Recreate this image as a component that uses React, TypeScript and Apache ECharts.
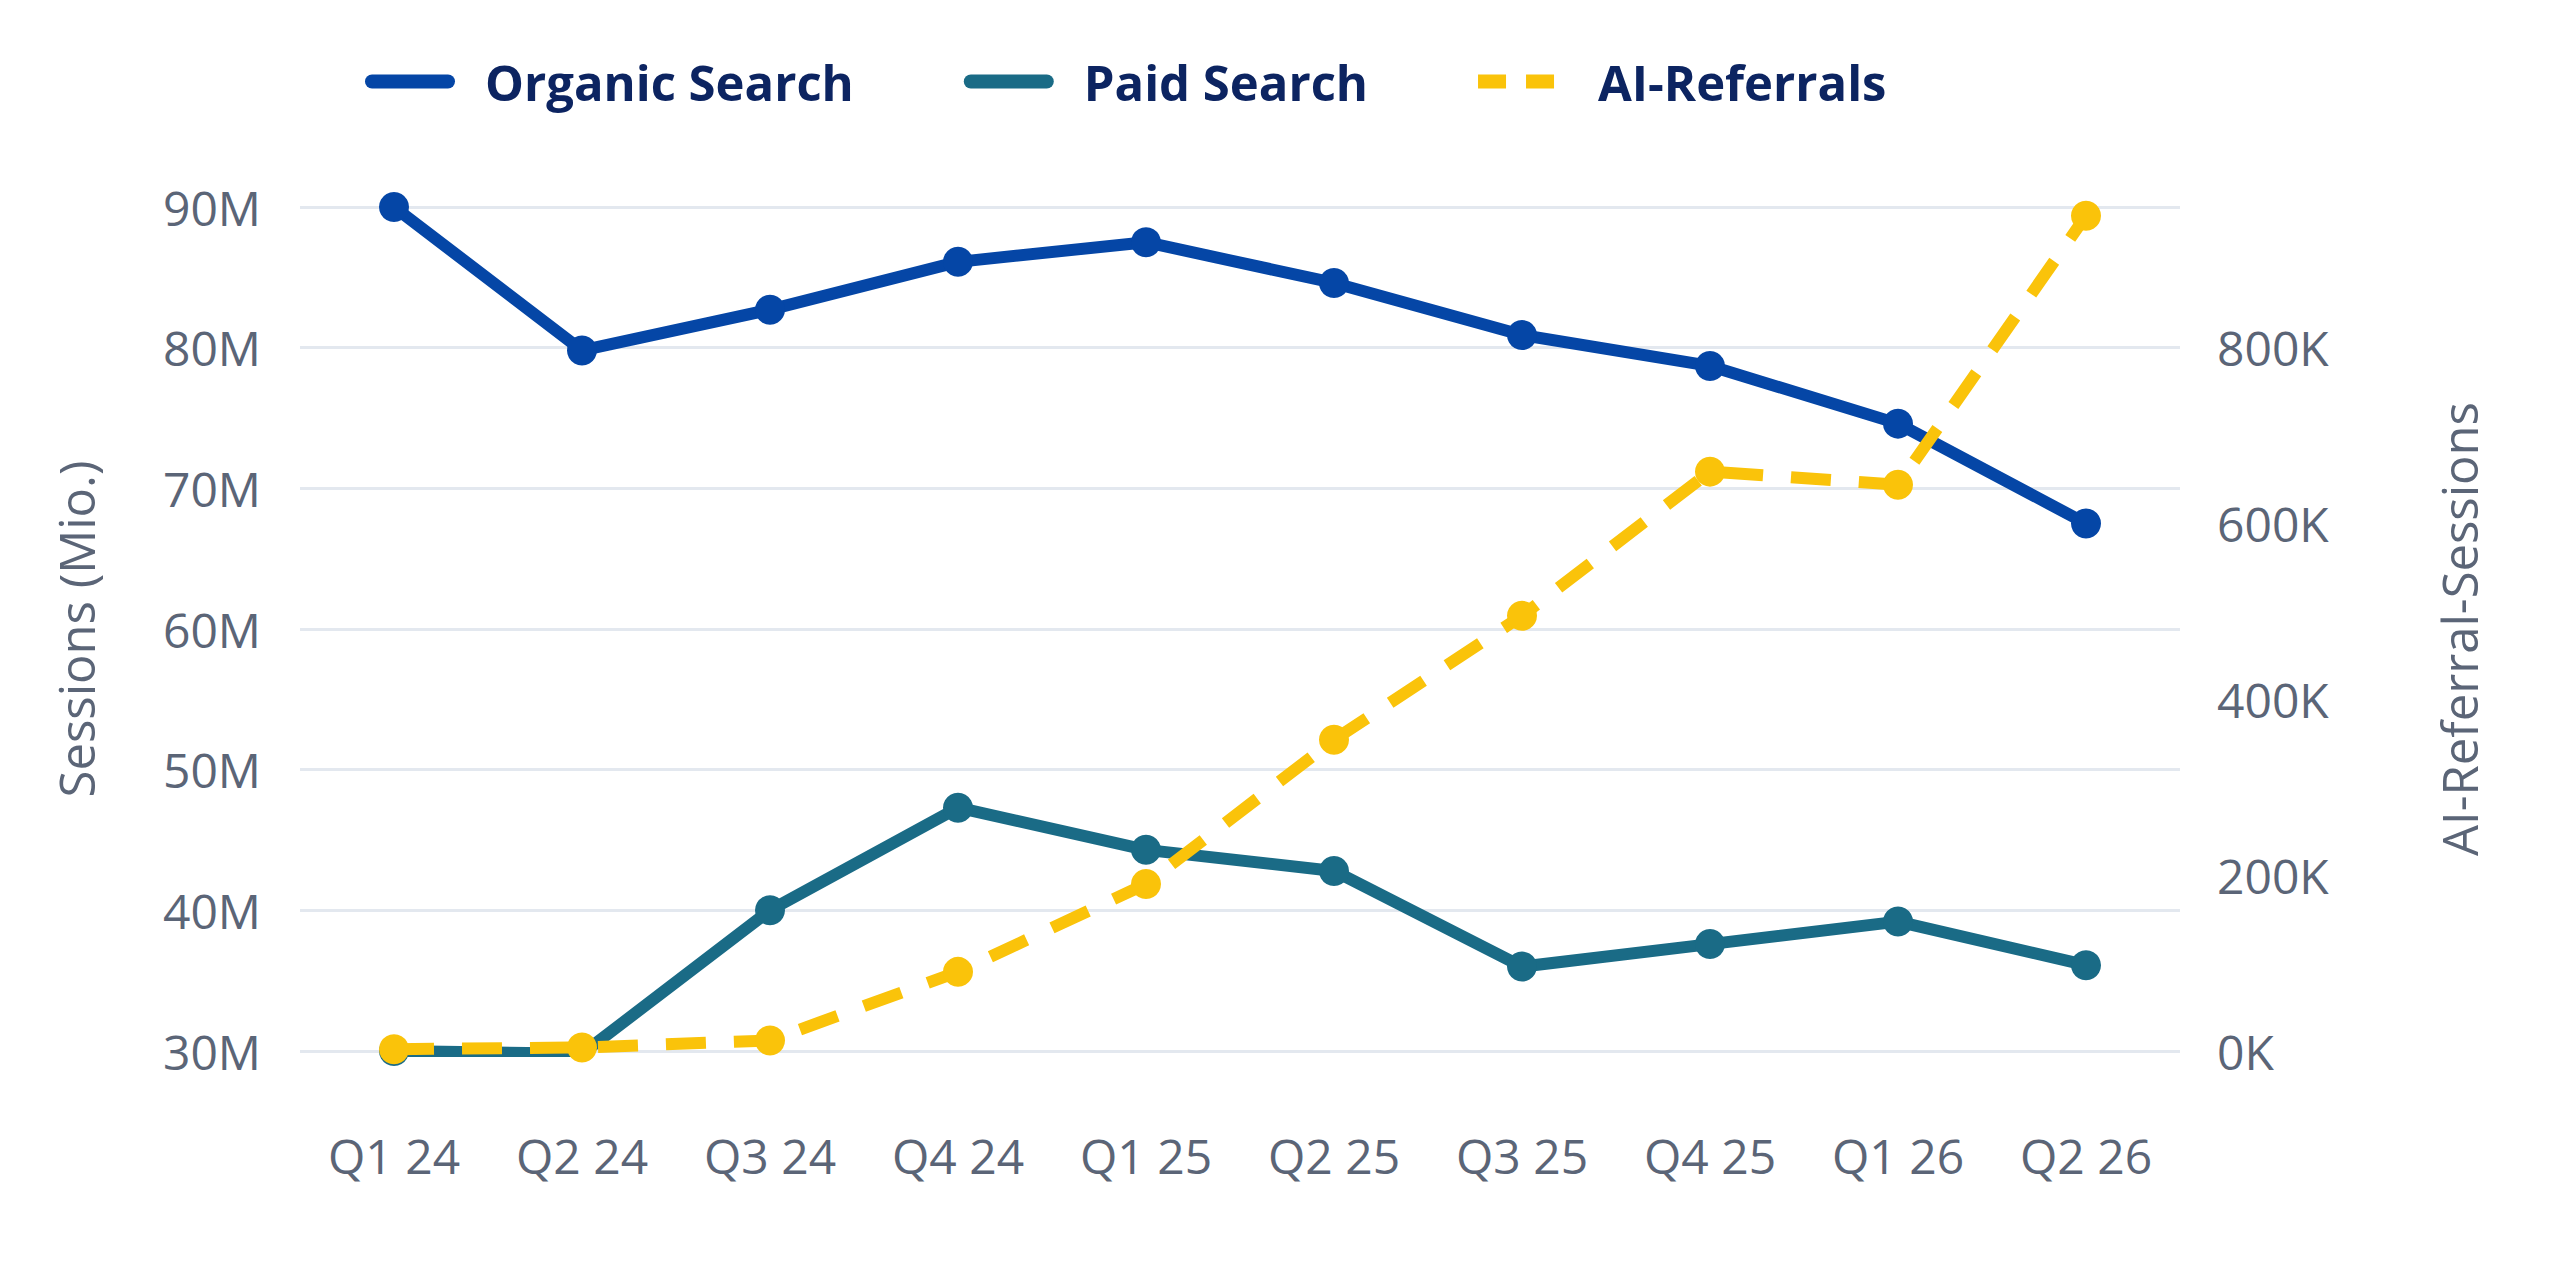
import React, { useEffect, useRef } from "react";
import * as echarts from "echarts";

const categories = ["Q1 24", "Q2 24", "Q3 24", "Q4 24", "Q1 25", "Q2 25", "Q3 25", "Q4 25", "Q1 26", "Q2 26"];
const organicSearch = [90.0, 79.8, 82.7, 86.1, 87.5, 84.6, 80.9, 78.7, 74.6, 67.5].map((v) => v * 1e6);
const paidSearch = [30.0, 29.8, 40.0, 47.3, 44.3, 42.8, 36.0, 37.6, 39.2, 36.1].map((v) => v * 1e6);
const aiReferrals = [2000, 4000, 12000, 90000, 190000, 354000, 495000, 659000, 644000, 950000];

const seriesNames = ["Organic Search", "Paid Search", "AI-Referrals"];
const leftAxisName = "Sessions (Mio.)";
const rightAxisName = "AI-Referral-Sessions";

const FONT = "'Open Sans', 'Noto Sans', sans-serif";
const GREY = "#5b6577";
const NAVY = "#0c2461";
const C_ORGANIC = "#0546a6";
const C_PAID = "#1a6b86";
const C_AI = "#fac30a";

const SOLID_ICON = "path://M7,0H83A7,7 0 0 1 83,14H7A7,7 0 0 1 7,0Z";
const DASH_ICON = "path://M0,0H28V14H0Z M48,0H76V14H48Z M89.99,6.99H90V7H89.99Z";

export default function App() {
  const ref = useRef<HTMLDivElement>(null);

  useEffect(() => {
    if (!ref.current) return;
    const chart = echarts.init(ref.current, null, { renderer: "svg" });
    chart.setOption({
      animation: false,
      backgroundColor: "#ffffff",
      textStyle: { fontFamily: FONT },
      legend: {
        top: 52,
        left: 360,
        itemWidth: 90,
        itemHeight: 14,
        itemGap: 110,
        itemStyle: { borderWidth: 0 },
        textStyle: {
          fontFamily: FONT,
          fontSize: 49,
          fontWeight: "bold",
          color: NAVY,
          padding: [0, 0, 0, 25],
        },
        data: [
          { name: seriesNames[0], icon: SOLID_ICON },
          { name: seriesNames[1], icon: SOLID_ICON },
          { name: seriesNames[2], icon: DASH_ICON },
        ],
      },
      grid: { left: 300, right: 380, top: 207, bottom: 229, containLabel: false },
      xAxis: {
        type: "category",
        data: categories,
        boundaryGap: true,
        axisLine: { show: false },
        axisTick: { show: false },
        axisLabel: { color: GREY, fontSize: 48, fontFamily: FONT, margin: 80 },
        splitLine: { show: false },
      },
      yAxis: [
        {
          type: "value",
          min: 30e6,
          max: 90e6,
          interval: 10e6,
          position: "left",
          name: leftAxisName,
          nameLocation: "middle",
          nameRotate: 90,
          nameGap: 200,
          nameTextStyle: { color: GREY, fontSize: 49, fontFamily: FONT },
          axisLine: { show: false },
          axisTick: { show: false },
          axisLabel: {
            color: GREY,
            fontSize: 48,
            fontFamily: FONT,
            margin: 39,
            formatter: (v: number) => `${Math.round(v / 1e6)}M`,
          },
          splitLine: { show: true, lineStyle: { color: "#e3e8ef", width: 3 } },
        },
        {
          type: "value",
          min: 0,
          max: 960000,
          interval: 200000,
          position: "right",
          name: rightAxisName,
          nameLocation: "middle",
          nameRotate: 90,
          nameGap: 254,
          nameTextStyle: { color: GREY, fontSize: 49, fontFamily: FONT },
          axisLine: { show: false },
          axisTick: { show: false },
          axisLabel: {
            color: GREY,
            fontSize: 48,
            fontFamily: FONT,
            margin: 37,
            showMaxLabel: false,
            formatter: (v: number) => (v % 200000 === 0 ? `${Math.round(v / 1000)}K` : ""),
          },
          splitLine: { show: false },
        },
      ],
      series: [
        {
          name: seriesNames[0],
          type: "line",
          yAxisIndex: 0,
          data: organicSearch,
          symbol: "circle",
          symbolSize: 30,
          itemStyle: { color: C_ORGANIC },
          lineStyle: { color: C_ORGANIC, width: 12 },
          z: 2,
        },
        {
          name: seriesNames[1],
          type: "line",
          yAxisIndex: 0,
          data: paidSearch,
          symbol: "circle",
          symbolSize: 30,
          itemStyle: { color: C_PAID },
          lineStyle: { color: C_PAID, width: 12 },
          z: 3,
        },
        {
          name: seriesNames[2],
          type: "line",
          yAxisIndex: 1,
          data: aiReferrals,
          symbol: "circle",
          symbolSize: 30,
          itemStyle: { color: C_AI },
          lineStyle: { color: C_AI, width: 12, type: [40, 28] },
          z: 4,
        },
      ],
    });
    return () => chart.dispose();
  }, []);

  return (
    <div
      ref={ref}
      style={{ position: "fixed", left: 0, top: 0, width: 2560, height: 1280, background: "#ffffff" }}
    />
  );
}
